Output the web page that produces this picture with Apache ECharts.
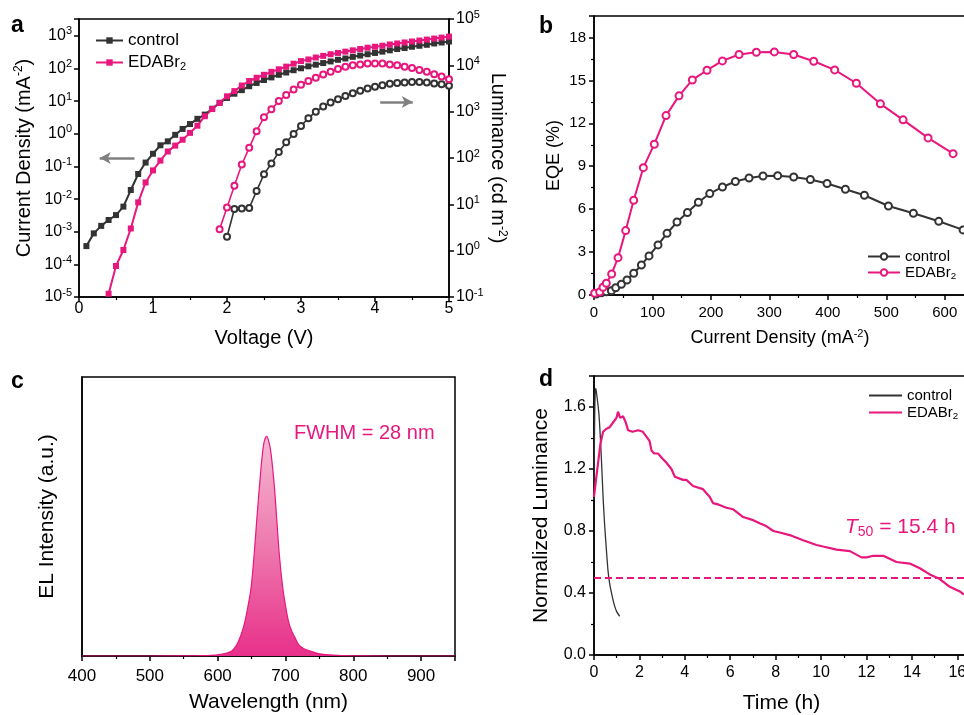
<!DOCTYPE html>
<html>
<head>
<meta charset="utf-8">
<script src="https://cdn.jsdelivr.net/npm/echarts@6.0.0/dist/echarts.min.js"></script>
<style>
  html, body { margin: 0; padding: 0; background: #fff; }
  #chart { width: 964px; height: 715px; }
</style>
</head>
<body>
<div id="chart"></div>
<script>
const FONT = 'Liberation Sans, Arial, sans-serif';
const PINK = '#E8177D';
const DARK = '#333333';

// (a) J-V-L : voltage grid, log10 of current density (mA cm-2) and luminance (cd m-2)
const voltage = [0.1, 0.2, 0.3, 0.4, 0.5, 0.6, 0.7, 0.8, 0.9, 1.0,
  1.1, 1.2, 1.3, 1.4, 1.5, 1.6, 1.7, 1.8, 1.9, 2.0,
  2.1, 2.2, 2.3, 2.4, 2.5, 2.6, 2.7, 2.8, 2.9, 3.0,
  3.1, 3.2, 3.3, 3.4, 3.5, 3.6, 3.7, 3.8, 3.9, 4.0,
  4.1, 4.2, 4.3, 4.4, 4.5, 4.6, 4.7, 4.8, 4.9, 5.0];
const controlLogJ = [-3.44, -3.05, -2.82, -2.64, -2.49, -2.23, -1.72, -1.23, -0.88, -0.61,
  -0.35, -0.23, -0.03, 0.15, 0.30, 0.46, 0.59, 0.77, 0.95, 1.10,
  1.23, 1.34, 1.46, 1.56, 1.65, 1.73, 1.81, 1.88, 1.95, 2.01,
  2.07, 2.12, 2.17, 2.22, 2.27, 2.31, 2.36, 2.40, 2.44, 2.48,
  2.52, 2.56, 2.60, 2.63, 2.67, 2.70, 2.73, 2.77, 2.80, 2.83];
// EDABr2 J starts at 0.4 V
const edaLogJ = [-4.90, -4.05, -3.56, -2.90, -2.10, -1.49, -1.12, -0.82, -0.54, -0.36,
  -0.18, 0.03, 0.25, 0.54, 0.76, 0.95, 1.15, 1.31, 1.48, 1.62,
  1.72, 1.81, 1.90, 1.98, 2.06, 2.15, 2.23, 2.28, 2.34, 2.39,
  2.44, 2.48, 2.52, 2.56, 2.60, 2.64, 2.67, 2.70, 2.74, 2.77,
  2.80, 2.83, 2.86, 2.89, 2.92, 2.95, 2.98];
// control luminance starts at 2.0 V
const controlLogL = [0.30, 0.90, 0.91, 0.92, 1.29, 1.65, 1.88, 2.13, 2.34, 2.52,
  2.69, 2.86, 3.00, 3.11, 3.20, 3.27, 3.34, 3.40, 3.45, 3.50,
  3.54, 3.57, 3.60, 3.62, 3.63, 3.64, 3.64, 3.63, 3.61, 3.59, 3.56];
// EDABr2 luminance starts at 1.9 V
const edaLogL = [0.46, 0.93, 1.40, 1.86, 2.22, 2.58, 2.88, 3.05, 3.23, 3.36,
  3.48, 3.58, 3.66, 3.73, 3.80, 3.86, 3.92, 3.97, 4.00, 4.02,
  4.04, 4.04, 4.04, 4.02, 4.00, 3.97, 3.94, 3.90, 3.86, 3.81,
  3.76, 3.70];

// (b) EQE vs current density
const eqeControlJ = [4, 12.6, 21.2, 29.7, 37.1, 46.8, 56.5, 67.9, 81.1, 94.1,
  109.5, 124.9, 142, 159.8, 178.6, 198, 219.7, 241.8, 265.2, 289.1,
  314.2, 341.6, 370.1, 398.6, 430, 462.5, 503.6, 546.3, 589.7, 631.3];
const eqeControl = [0.07, 0.16, 0.23, 0.30, 0.51, 0.75, 1.05, 1.52, 2.10, 2.73,
  3.50, 4.31, 5.10, 5.76, 6.48, 7.09, 7.55, 7.93, 8.18, 8.32,
  8.34, 8.25, 8.07, 7.79, 7.39, 6.97, 6.22, 5.71, 5.15, 4.55];
const eqeEdaJ = [1.1, 9.7, 15.4, 21.1, 30.2, 41.1, 54.2, 67.9, 84.4, 103.2,
  123.2, 145.4, 168.2, 193.3, 219.6, 248.1, 277.7, 308.5, 341.6, 375.8,
  411.7, 448.8, 489.9, 528.7, 571.4, 614.2];
const eqeEda = [0.12, 0.21, 0.54, 0.82, 1.47, 2.61, 4.50, 6.62, 8.90, 10.54,
  12.54, 13.92, 15.03, 15.71, 16.36, 16.81, 16.97, 16.99, 16.81, 16.34,
  15.73, 14.80, 13.36, 12.24, 10.98, 9.88];

// (c) EL spectrum (normalised)
const wavelength = [400, 500, 560, 590, 605, 615, 621, 628, 633, 637,
  640.5, 645, 649.3, 653.8, 657.7, 661.6, 666, 669, 672.5, 676,
  678.8, 683.7, 687.2, 691, 696, 700, 704.3, 709, 714, 720,
  728, 736, 750, 770, 800, 850, 950];
const elIntensity = [0, 0, 0.001, 0.003, 0.008, 0.015, 0.023, 0.05, 0.084, 0.12,
  0.16, 0.23, 0.31, 0.46, 0.62, 0.77, 0.92, 0.98, 1.0, 0.97,
  0.92, 0.77, 0.62, 0.46, 0.31, 0.23, 0.16, 0.115, 0.084, 0.05,
  0.032, 0.023, 0.01, 0.004, 0.001, 0, 0];

// (d) operational stability
const stabControlT = [0, 0.02, 0.05, 0.08, 0.12, 0.17, 0.22, 0.28, 0.33, 0.40,
  0.46, 0.55, 0.62, 0.69, 0.80, 0.90, 1.00, 1.13];
const stabControl = [1.0, 1.40, 1.68, 1.72, 1.68, 1.62, 1.55, 1.40, 1.25, 1.02,
  0.86, 0.67, 0.54, 0.46, 0.38, 0.32, 0.28, 0.25];
const stabEdaT = [0, 0.08, 0.18, 0.28, 0.40, 0.55, 0.69, 0.84, 0.99, 1.06,
  1.15, 1.28, 1.40, 1.50, 1.70, 1.94, 2.15, 2.30, 2.45, 2.53,
  2.65, 2.82, 3.00, 3.19, 3.41, 3.56, 3.63, 3.92, 4.07, 4.36,
  4.80, 5.10, 5.24, 5.50, 5.83, 6.13, 6.57, 7.01, 7.30, 7.60,
  7.90, 8.18, 8.70, 9.21, 9.80, 10.09, 10.68, 11.27, 11.78, 12.00,
  12.30, 12.74, 13.32, 13.91, 14.35, 14.79, 15.23, 15.67, 16.11, 16.29];
const stabEda = [1.02, 1.12, 1.24, 1.36, 1.44, 1.46, 1.47, 1.50, 1.53, 1.57,
  1.53, 1.54, 1.50, 1.45, 1.44, 1.45, 1.44, 1.41, 1.38, 1.32,
  1.30, 1.30, 1.27, 1.24, 1.20, 1.15, 1.15, 1.13, 1.13, 1.09,
  1.07, 1.02, 0.98, 0.97, 0.95, 0.94, 0.89, 0.87, 0.85, 0.83,
  0.80, 0.79, 0.77, 0.74, 0.71, 0.70, 0.68, 0.67, 0.63, 0.63,
  0.64, 0.64, 0.60, 0.59, 0.56, 0.52, 0.49, 0.44, 0.41, 0.39];
const t50Level = 0.5;

const zip = (xs, ys) => xs.map((x, i) => [x, ys[i]]);
const pow10 = arr => arr.map(v => Math.pow(10, v));

const displayName = {
  'a-control': 'control', 'a-EDABr2': 'EDABr{sub|2}',
  'b-control': 'control', 'b-EDABr2': 'EDABr{sub|2}',
  'd-control': 'control', 'd-EDABr2': 'EDABr{sub|2}'
};

function merge(a, b) {
  Object.keys(b).forEach(k => {
    if (b[k] && typeof b[k] === 'object' && !Array.isArray(b[k]) && a[k] && typeof a[k] === 'object') {
      merge(a[k], b[k]);
    } else {
      a[k] = b[k];
    }
  });
  return a;
}

function axis(extra) {
  return merge({
    type: 'value',
    nameLocation: 'middle',
    nameTextStyle: { color: '#000', fontSize: 18, fontFamily: FONT },
    axisLine: { show: true, onZero: false, lineStyle: { color: '#000', width: 1.5 } },
    axisTick: { show: true, length: 5, lineStyle: { color: '#000', width: 1.5 } },
    minorTick: { show: false, length: 3, lineStyle: { color: '#000', width: 1.2 } },
    axisLabel: { color: '#000', fontSize: 15, fontFamily: FONT },
    splitLine: { show: false }
  }, extra);
}

const supRich = { sup: { fontSize: 11, fontFamily: FONT, color: '#000', padding: [0, 0, 9, 0] } };
const supRichBig = { sup: { fontSize: 12, fontFamily: FONT, color: '#000', padding: [0, 0, 10, 0] } };

function logLabel(v) {
  const e = Math.log10(v);
  const r = Math.round(e);
  if (Math.abs(e - r) > 1e-3) return '';
  return '10{sup|' + r + '}';
}
function stepLabel(step, digits) {
  return v => {
    const r = v / step;
    if (Math.abs(r - Math.round(r)) > 1e-6) return '';
    return digits ? v.toFixed(digits) : String(Math.round(v));
  };
}

function legend(left, top, names, fontSize, itemWidth, itemGap, icon) {
  return {
    left: left, top: top, orient: 'vertical',
    itemWidth: itemWidth, itemHeight: icon ? 2 : 8, itemGap: itemGap,
    data: names.map(n => (icon ? { name: n, icon: icon } : n)),
    formatter: n => displayName[n],
    textStyle: {
      color: '#000', fontSize: fontSize, fontFamily: FONT,
      rich: { sub: { fontSize: fontSize * 0.65, fontFamily: FONT, color: '#000', padding: [8, 0, 0, 0] } }
    },
    selectedMode: false
  };
}

const chart = echarts.init(document.getElementById('chart'));

const gridBase = { show: true, borderColor: '#000', borderWidth: 1.5, outerBoundsMode: 'none', containLabel: false };

const option = {
  animation: false,
  backgroundColor: '#fff',
  grid: [
    Object.assign({ left: 79, top: 19, width: 370, height: 278 }, gridBase),
    Object.assign({ left: 594, top: 16, width: 380, height: 279 }, gridBase),
    Object.assign({ left: 82, top: 377, width: 373, height: 279 }, gridBase),
    Object.assign({ left: 594, top: 376, width: 386, height: 279 }, gridBase)
  ],
  xAxis: [
    axis({ gridIndex: 0, min: 0, max: 5, interval: 1, name: 'Voltage (V)', nameGap: 31,
      nameTextStyle: { fontSize: 20 },
      minorTick: { show: true, splitNumber: 2 }, axisLabel: { margin: 4, fontSize: 16 } }),
    axis({ gridIndex: 1, min: 0, max: 650, interval: 100, name: 'Current Density (mA{sup|-2})', nameGap: 33,
      nameTextStyle: { rich: supRich, padding: [0, 8, 0, 0] },
      minorTick: { show: true, splitNumber: 2 }, axisLabel: { margin: 10, formatter: stepLabel(100, 0) } }),
    axis({ gridIndex: 2, min: 400, max: 950, interval: 100, name: 'Wavelength (nm)', nameGap: 36,
      nameTextStyle: { fontSize: 21 },
      minorTick: { show: true, splitNumber: 2 }, axisLabel: { margin: 12, fontSize: 17, formatter: stepLabel(100, 0) } }),
    axis({ gridIndex: 3, min: 0, max: 17, interval: 2, name: 'Time (h)', nameGap: 38,
      nameTextStyle: { fontSize: 21, padding: [0, 11, 0, 0] },
      minorTick: { show: true, splitNumber: 2 }, axisLabel: { margin: 10, fontSize: 16, formatter: stepLabel(2, 0) } })
  ],
  yAxis: [
    axis({ gridIndex: 0, type: 'log', logBase: 10, min: 1e-5, max: Math.pow(10, 3.52),
      name: 'Current Density (mA{sup|-2})', nameGap: 44, nameRotate: 90,
      nameTextStyle: { fontSize: 20, rich: supRichBig },
      axisLabel: { margin: 7, fontSize: 16, formatter: logLabel, rich: supRich } }),
    axis({ gridIndex: 0, type: 'log', logBase: 10, min: 0.1, max: 1e5, position: 'right',
      name: 'Luminance (cd m{sup|-2})', nameGap: 36, nameRotate: -90,
      nameTextStyle: { fontSize: 20, rich: supRichBig },
      axisLabel: { margin: 7, fontSize: 16, formatter: logLabel, rich: supRich } }),
    axis({ gridIndex: 1, min: 0, max: 19.5, interval: 3, name: 'EQE (%)', nameGap: 31, nameRotate: 90,
      minorTick: { show: true, splitNumber: 2 }, axisLabel: { margin: 8, formatter: stepLabel(3, 0) } }),
    axis({ gridIndex: 2, min: 0, max: 1.27, name: 'EL Intensity (a.u.)', nameGap: 24, nameRotate: 90,
      nameTextStyle: { fontSize: 21 },
      axisTick: { show: false }, axisLabel: { show: false } }),
    axis({ gridIndex: 3, min: 0, max: 1.8, interval: 0.4, name: 'Normalized Luminance', nameGap: 42, nameRotate: 90,
      nameTextStyle: { fontSize: 21 },
      minorTick: { show: true, splitNumber: 2 }, axisLabel: { margin: 8, fontSize: 16, formatter: stepLabel(0.4, 1) } })
  ],
  legend: [
    legend(90, 27, ['a-control', 'a-EDABr2'], 17, 27, 5),
    legend(862, 244, ['b-control', 'b-EDABr2'], 15, 32, 1),
    legend(864, 383, ['d-control', 'd-EDABr2'], 15, 33, 2, 'rect')
  ],
  series: [
    {
      name: 'a-control', type: 'line', xAxisIndex: 0, yAxisIndex: 0,
      data: zip(voltage, pow10(controlLogJ)),
      symbol: 'rect', symbolSize: 6, color: DARK, lineStyle: { width: 2 },
      markLine: {
        silent: true, symbol: ['none', 'arrow'], symbolSize: [9, 11],
        lineStyle: { color: '#808080', width: 2.5, type: 'solid' }, label: { show: false },
        data: [[{ coord: [0.75, Math.pow(10, -0.74)] }, { coord: [0.28, Math.pow(10, -0.74)] }]]
      }
    },
    {
      name: 'a-EDABr2', type: 'line', xAxisIndex: 0, yAxisIndex: 0,
      data: zip(voltage.slice(3), pow10(edaLogJ)),
      symbol: 'rect', symbolSize: 6, color: PINK, lineStyle: { width: 2 }
    },
    {
      name: 'a-control-L', type: 'line', xAxisIndex: 0, yAxisIndex: 1,
      data: zip(voltage.slice(19), pow10(controlLogL)),
      symbol: 'emptyCircle', symbolSize: 6, color: DARK, lineStyle: { width: 1.6 },
      markLine: {
        silent: true, symbol: ['none', 'arrow'], symbolSize: [9, 11],
        lineStyle: { color: '#808080', width: 2.5, type: 'solid' }, label: { show: false },
        data: [[{ coord: [4.07, Math.pow(10, 3.21)] }, { coord: [4.51, Math.pow(10, 3.21)] }]]
      }
    },
    {
      name: 'a-EDABr2-L', type: 'line', xAxisIndex: 0, yAxisIndex: 1,
      data: zip(voltage.slice(18), pow10(edaLogL)),
      symbol: 'emptyCircle', symbolSize: 6, color: PINK, lineStyle: { width: 1.6 }
    },
    {
      name: 'b-control', type: 'line', xAxisIndex: 1, yAxisIndex: 2,
      data: zip(eqeControlJ, eqeControl),
      symbol: 'emptyCircle', symbolSize: 7, color: DARK, lineStyle: { width: 2 }
    },
    {
      name: 'b-EDABr2', type: 'line', xAxisIndex: 1, yAxisIndex: 2,
      data: zip(eqeEdaJ, eqeEda),
      symbol: 'emptyCircle', symbolSize: 7, color: PINK, lineStyle: { width: 2 }
    },
    {
      name: 'c-EL', type: 'line', xAxisIndex: 2, yAxisIndex: 3,
      data: zip(wavelength, elIntensity),
      smooth: 0.3, showSymbol: false, symbol: 'none',
      color: PINK, lineStyle: { width: 1.2 },
      areaStyle: {
        opacity: 1,
        color: new echarts.graphic.LinearGradient(0, 0, 0, 1, [
          { offset: 0, color: '#F5B8D3' },
          { offset: 0.5, color: '#EE79AE' },
          { offset: 1, color: '#E8308A' }
        ])
      }
    },
    {
      name: 'd-control', type: 'line', xAxisIndex: 3, yAxisIndex: 4,
      data: zip(stabControlT, stabControl),
      symbol: 'none', smooth: 0.3, color: DARK, lineStyle: { width: 1.3 }
    },
    {
      name: 'd-EDABr2', type: 'line', xAxisIndex: 3, yAxisIndex: 4,
      data: zip(stabEdaT, stabEda),
      symbol: 'none', color: PINK, lineStyle: { width: 2.2 },
      markLine: {
        silent: true, symbol: 'none', label: { show: false },
        lineStyle: { color: PINK, width: 2, type: [7, 4] },
        data: [{ yAxis: t50Level }]
      }
    }
  ],
  graphic: [
    { type: 'text', left: 11, top: 14, style: { text: 'a', font: 'bold 23px ' + FONT, fill: '#000' } },
    { type: 'text', left: 539, top: 15, style: { text: 'b', font: 'bold 23px ' + FONT, fill: '#000' } },
    { type: 'text', left: 11, top: 370, style: { text: 'c', font: 'bold 23px ' + FONT, fill: '#000' } },
    { type: 'text', left: 539, top: 368, style: { text: 'd', font: 'bold 23px ' + FONT, fill: '#000' } },
    { type: 'text', left: 294, top: 423, style: { text: 'FWHM = 28 nm', font: '20px ' + FONT, fill: PINK } },
    {
      type: 'text', left: 845, top: 517,
      style: {
        text: '{it|T}{sub|50} = 15.4 h', fontSize: 21, fontFamily: FONT, fill: PINK,
        rich: {
          it: { fontStyle: 'italic', fontSize: 21, fontFamily: FONT, fill: PINK },
          sub: { fontSize: 14, fontFamily: FONT, fill: PINK, padding: [10, 0, 0, 0] }
        }
      }
    }
  ]
};

chart.setOption(option);
</script>
</body>
</html>
